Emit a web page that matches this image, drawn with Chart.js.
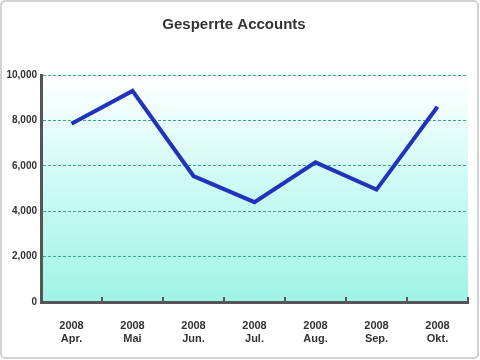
<!DOCTYPE html>
<html><head><meta charset="utf-8">
<script src="https://cdn.jsdelivr.net/npm/chart.js@4"></script>
<style>html,body{margin:0;padding:0;background:#fff}#wrap{width:480px;height:360px}</style>
</head><body><div id="wrap"><canvas id="c" width="480" height="360"></canvas></div>
<script>
const years = ['2008','2008','2008','2008','2008','2008','2008'];
const months = ['Apr.','Mai','Jun.','Jul.','Aug.','Sep.','Okt.'];
const accounts = [7850, 9300, 5550, 4400, 6150, 4950, 8600];
const yTicks = [0, 2000, 4000, 6000, 8000, 10000];
const titleText = 'Gesperrte Accounts';

const labels = years.map((y, i) => [y, months[i]]);
const FONT = '"Liberation Sans", Arial, sans-serif';

const decor = {
  id: 'decor',
  beforeDraw(chart) {
    const ctx = chart.ctx, a = chart.chartArea;
    ctx.save();
    ctx.fillStyle = '#fff';
    ctx.fillRect(0, 0, chart.width, chart.height);
    ctx.strokeStyle = '#c4c4c4';
    ctx.lineWidth = 1.5;
    ctx.beginPath();
    ctx.roundRect(1, 1, chart.width - 3, chart.height - 3, 4);
    ctx.stroke();
    const g = ctx.createLinearGradient(0, a.top, 0, a.bottom);
    g.addColorStop(0, '#ffffff');
    g.addColorStop(0.5, '#cbfaf4');
    g.addColorStop(1, '#a0f3e5');
    ctx.fillStyle = g;
    ctx.fillRect(a.left, a.top, a.right - a.left, a.bottom - a.top);
    ctx.restore();
  },
  afterDatasetsDraw(chart) {
    const ctx = chart.ctx, x = chart.scales.x, a = chart.chartArea;
    const n = labels.length, w = (x.right - x.left) / n;
    ctx.save();
    ctx.strokeStyle = '#555';
    ctx.lineWidth = 2;
    for (let i = 1; i <= n; i++) {
      const px = Math.round(x.left + i * w);
      ctx.beginPath();
      ctx.moveTo(px, a.bottom);
      ctx.lineTo(px, a.bottom - 5);
      ctx.stroke();
    }
    ctx.restore();
  }
};

new Chart(document.getElementById('c'), {
  type: 'line',
  data: {
    labels: labels,
    datasets: [{
      data: accounts,
      borderColor: '#2233bb',
      borderWidth: 4,
      pointRadius: 0,
      tension: 0,
      fill: false
    }]
  },
  options: {
    responsive: false,
    animation: false,
    devicePixelRatio: 1,
    layout: { padding: { left: 0, right: 12, top: 0, bottom: 0 } },
    plugins: {
      legend: { display: false },
      tooltip: { enabled: false },
      title: {
        display: true,
        text: titleText,
        color: '#333',
        font: { family: FONT, size: 15, weight: 'bold' },
        padding: { top: 16, bottom: 41 }
      }
    },
    scales: {
      x: {
        offset: true,
        afterFit(s) { s.height = 58; },
        grid: { display: false, offset: true },
        border: { display: true, color: '#555', width: 3 },
        ticks: {
          color: '#333',
          padding: 9,
          font: { family: FONT, size: 11, weight: 'bold', lineHeight: 1.2 },
          maxRotation: 0
        }
      },
      y: {
        min: 0, max: 10000,
        afterFit(s) { s.width = 41; },
        afterBuildTicks(s) { s.ticks = yTicks.map(v => ({ value: v })); },
        grid: { color: '#2fae88', lineWidth: 1, drawTicks: false },
        border: { display: true, color: '#555', width: 3, dash: [3, 2] },
        ticks: {
          color: '#333',
          padding: 4,
          font: { family: FONT, size: 10, weight: 'bold' },
          callback: v => v.toLocaleString('en-US')
        }
      }
    }
  },
  plugins: [decor]
});
</script></body></html>
